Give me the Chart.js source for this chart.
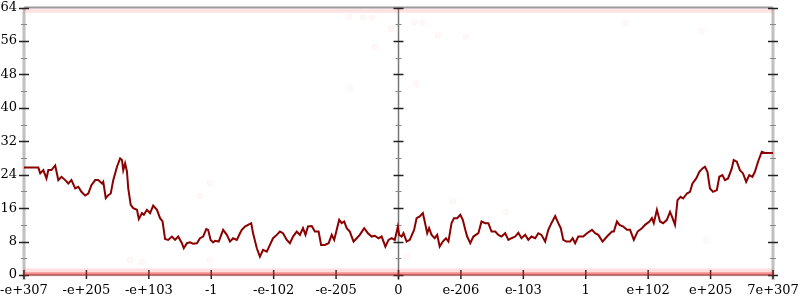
<!DOCTYPE html>
<html>
<head>
<meta charset="utf-8">
<script src="https://cdn.jsdelivr.net/npm/chart.js@4"></script>
<style>
  html, body { margin: 0; padding: 0; background: #fff; }
  #wrap { width: 800px; height: 300px; }
</style>
</head>
<body>
<div id="wrap"><canvas id="grafik"></canvas></div>
<script>
// x position on the axis, in tick steps (-6 .. 6)
const posisiX = [
  -6.00, -5.77, -5.74, -5.69, -5.64, -5.61, -5.56, -5.50, -5.45, -5.40, -5.34, -5.29, -5.24, -5.18,
  -5.13, -5.08, -5.02, -4.97, -4.92, -4.86, -4.81, -4.75, -4.73, -4.69, -4.65, -4.61, -4.57, -4.51,
  -4.46, -4.43, -4.41, -4.38, -4.35, -4.33, -4.29, -4.25, -4.19, -4.16, -4.11, -4.08, -4.03, -3.98,
  -3.93, -3.87, -3.82, -3.78, -3.74, -3.69, -3.63, -3.58, -3.53, -3.47, -3.44, -3.39, -3.34, -3.29,
  -3.23, -3.18, -3.13, -3.08, -3.05, -3.01, -2.97, -2.94, -2.88, -2.81, -2.75, -2.70, -2.65, -2.59,
  -2.54, -2.51, -2.46, -2.41, -2.36, -2.33, -2.27, -2.22, -2.17, -2.11, -2.06, -2.01, -1.95, -1.90,
  -1.85, -1.79, -1.74, -1.69, -1.63, -1.58, -1.53, -1.49, -1.45, -1.39, -1.34, -1.28, -1.24, -1.18,
  -1.12, -1.07, -1.03, -0.99, -0.95, -0.91, -0.87, -0.83, -0.78, -0.72, -0.67, -0.62, -0.55, -0.49,
  -0.43, -0.38, -0.32, -0.27, -0.21, -0.16, -0.11, -0.06, -0.01, 0.01, 0.05, 0.08, 0.13, 0.18,
  0.25, 0.29, 0.34, 0.39, 0.42, 0.46, 0.49, 0.53, 0.58, 0.62, 0.66, 0.71, 0.76, 0.80,
  0.85, 0.89, 0.94, 0.99, 1.03, 1.07, 1.10, 1.15, 1.20, 1.28, 1.33, 1.39, 1.44, 1.49,
  1.55, 1.60, 1.65, 1.71, 1.76, 1.81, 1.87, 1.92, 1.97, 2.03, 2.08, 2.13, 2.19, 2.24,
  2.29, 2.35, 2.40, 2.45, 2.51, 2.56, 2.60, 2.64, 2.69, 2.75, 2.79, 2.83, 2.88, 2.96,
  3.02, 3.10, 3.15, 3.20, 3.27, 3.34, 3.42, 3.45, 3.50, 3.54, 3.60, 3.66, 3.71, 3.77,
  3.83, 3.90, 3.95, 4.02, 4.06, 4.09, 4.14, 4.19, 4.24, 4.30, 4.35, 4.38, 4.43, 4.47,
  4.52, 4.56, 4.62, 4.67, 4.71, 4.77, 4.82, 4.87, 4.91, 4.95, 4.99, 5.04, 5.10, 5.14,
  5.19, 5.23, 5.28, 5.34, 5.37, 5.42, 5.47, 5.52, 5.57, 5.62, 5.67, 5.71, 5.76, 5.82,
  5.87, 6.00
];
const nilaiGaris = [
  25.7, 25.7, 24.3, 25.1, 23.1, 25.1, 25.1, 26.2, 22.7, 23.5, 22.7, 21.9, 22.7, 20.7,
  21.1, 19.9, 19.0, 19.5, 21.5, 22.7, 22.7, 21.9, 22.3, 18.4, 19.1, 19.5, 22.7, 25.9,
  27.9, 27.5, 25.1, 26.7, 24.7, 20.7, 16.8, 16.0, 15.6, 13.4, 14.8, 14.4, 15.6, 14.8,
  16.6, 15.6, 13.6, 12.8, 8.6, 8.4, 9.2, 8.4, 9.2, 7.6, 6.4, 7.6, 7.8, 7.5,
  7.6, 8.8, 9.2, 11.0, 10.8, 8.4, 7.8, 8.2, 8.0, 10.8, 9.6, 8.0, 8.8, 8.4,
  10.0, 10.8, 11.6, 12.0, 12.4, 10.0, 6.4, 4.4, 6.0, 5.6, 7.2, 8.8, 9.6, 10.4,
  10.0, 8.4, 7.6, 9.2, 10.4, 9.6, 11.2, 9.6, 11.6, 11.7, 10.4, 10.4, 7.2, 7.2,
  7.6, 9.6, 8.4, 10.8, 13.2, 12.4, 12.8, 11.2, 10.4, 8.0, 8.8, 9.6, 11.2, 10.0,
  9.2, 9.4, 8.8, 9.2, 6.8, 8.4, 8.8, 8.4, 11.6, 9.6, 9.2, 10.0, 8.0, 8.4,
  10.8, 13.6, 14.0, 14.8, 12.8, 10.0, 11.2, 9.6, 8.8, 9.6, 6.8, 8.0, 8.8, 8.0,
  12.4, 13.6, 13.6, 14.4, 13.2, 10.8, 9.2, 7.6, 9.2, 10.0, 12.8, 12.4, 12.4, 10.4,
  10.4, 9.6, 9.2, 10.0, 8.4, 8.8, 9.2, 10.1, 8.8, 9.6, 8.4, 9.2, 8.8, 10.0,
  9.6, 8.0, 10.8, 12.4, 14.1, 12.4, 11.2, 8.4, 8.0, 8.0, 8.8, 7.6, 9.2, 9.2,
  10.0, 10.8, 10.0, 9.6, 8.0, 9.2, 10.4, 10.4, 12.8, 12.0, 11.6, 10.8, 10.8, 8.4,
  10.4, 11.2, 12.0, 12.8, 13.6, 12.4, 15.6, 12.8, 12.4, 13.2, 15.1, 14.0, 12.0, 17.9,
  18.7, 18.3, 19.5, 19.9, 21.9, 23.1, 24.7, 25.5, 25.9, 24.7, 20.7, 19.9, 20.3, 23.5,
  23.9, 22.7, 23.1, 25.5, 27.5, 27.1, 25.1, 24.3, 22.3, 23.9, 23.5, 24.7, 27.1, 29.5,
  29.2, 29.2
];

// faint sample dots scattered over the plot
const titikX = [-0.79, -0.57, -0.42, -0.12, 0.25, 0.39, 0.63, 1.08, -0.38, -0.78, 0.28, 3.63, 4.86,
  -4.30, -4.11, -3.02, -3.02, -3.18, 4.93, 0.87, 1.72, 0.14];
const titikY = [61.7, 61.7, 61.5, 58.9, 60.5, 60.3, 57.4, 57.0, 54.6, 44.7, 45.9, 60.3, 58.4,
  3.6, 3.1, 3.6, 22.0, 18.9, 8.4, 17.5, 15.1, 4.5];

// dense bands of samples along the bottom and the top
const pitaX = [-6, 6];
const pitaBawahLebar = [0.6, 0.6];
const pitaBawahPadat = [0.3, 0.3];
const pitaAtas = [63.2, 63.2];

const labelX = ['-e+307', '-e+205', '-e+103', '-1', '-e-102', '-e-205', '0',
  'e-206', 'e-103', '1', 'e+102', 'e+205', '7e+307'];
const tickY = [0, 8, 16, 24, 32, 40, 48, 56, 64];

const gabung = (xs, ys) => xs.map((x, i) => ({ x: x, y: ys[i] }));

// axis lines and crossing tick marks
const pluginSumbu = {
  id: 'sumbu',
  beforeDatasetsDraw(chart) {
    const { ctx, chartArea: a, scales: { x, y } } = chart;
    const tengah = x.getPixelForValue(0);
    ctx.save();

    ctx.strokeStyle = '#999';
    ctx.lineWidth = 2;
    [0, 64].forEach(v => {
      const py = y.getPixelForValue(v);
      ctx.beginPath(); ctx.moveTo(a.left, py); ctx.lineTo(a.right, py); ctx.stroke();
    });

    ctx.strokeStyle = '#c0c0c0';
    ctx.lineWidth = 3;
    [a.left, a.right].forEach(px => {
      ctx.beginPath(); ctx.moveTo(px, a.top); ctx.lineTo(px, a.bottom + 5); ctx.stroke();
    });
    ctx.strokeStyle = '#777';
    ctx.lineWidth = 1.5;
    ctx.beginPath(); ctx.moveTo(tengah, a.top); ctx.lineTo(tengah, a.bottom + 5); ctx.stroke();

    [a.left, tengah, a.right].forEach(px => {
      for (let v = 0; v <= 64; v += 4) {
        const py = Math.round(y.getPixelForValue(v)) + 0.5;
        const mayor = v % 8 === 0;
        const d = mayor ? 5 : 3;
        ctx.strokeStyle = mayor ? '#222' : '#888';
        ctx.lineWidth = mayor ? 1.5 : 1;
        ctx.beginPath(); ctx.moveTo(px - d, py); ctx.lineTo(px + d, py); ctx.stroke();
      }
    });

    ctx.strokeStyle = '#222';
    ctx.lineWidth = 1.5;
    for (let i = -6; i <= 6; i++) {
      const px = x.getPixelForValue(i);
      ctx.beginPath(); ctx.moveTo(px, a.bottom - 5); ctx.lineTo(px, a.bottom + 4); ctx.stroke();
    }
    ctx.restore();
  }
};

const fontLabel = { family: "'DejaVu Serif', serif", size: 13 };

new Chart(document.getElementById('grafik'), {
  type: 'line',
  data: {
    datasets: [
      {
        data: gabung(posisiX, nilaiGaris),
        borderColor: '#8b0000',
        borderWidth: 2,
        pointRadius: 0,
        tension: 0
      },
      {
        type: 'scatter',
        data: gabung(titikX, titikY),
        backgroundColor: 'rgba(255, 80, 80, 0.04)',
        borderColor: 'rgba(255, 80, 80, 0.04)',
        pointRadius: 3
      },
      {
        data: gabung(pitaX, pitaBawahLebar),
        borderColor: 'rgba(255, 70, 70, 0.18)',
        borderWidth: 8,
        pointRadius: 0,
        clip: false
      },
      {
        data: gabung(pitaX, pitaBawahPadat),
        borderColor: 'rgba(225, 20, 20, 0.4)',
        borderWidth: 3,
        pointRadius: 0,
        clip: false
      },
      {
        data: gabung(pitaX, pitaAtas),
        borderColor: 'rgba(255, 70, 70, 0.15)',
        borderWidth: 4,
        pointRadius: 0,
        clip: false
      }
    ]
  },
  options: {
    responsive: true,
    maintainAspectRatio: false,
    animation: false,
    layout: { padding: { top: 7.5, right: 27, left: 0, bottom: 0 } },
    plugins: { legend: { display: false }, tooltip: { enabled: false } },
    scales: {
      x: {
        type: 'linear',
        min: -6,
        max: 6,
        grid: { display: false, drawTicks: false },
        border: { display: false },
        afterBuildTicks: s => { s.ticks = labelX.map((t, i) => ({ value: i - 6 })); },
        afterFit: s => {
          s.height = 25;
          s.paddingLeft = 0; s.paddingRight = 0; s.paddingTop = 0; s.paddingBottom = 0;
        },
        ticks: {
          color: '#000',
          font: fontLabel,
          padding: 8,
          maxRotation: 0,
          autoSkip: false,
          callback: v => labelX[v + 6]
        }
      },
      y: {
        min: 0,
        max: 64,
        grid: { display: false, drawTicks: false },
        border: { display: false },
        afterBuildTicks: s => { s.ticks = tickY.map(v => ({ value: v })); },
        afterFit: s => {
          s.width = 24;
          s.paddingLeft = 0; s.paddingRight = 0; s.paddingTop = 0; s.paddingBottom = 0;
        },
        ticks: { color: '#000', font: fontLabel, padding: 7 }
      }
    }
  },
  plugins: [pluginSumbu]
});
</script>
</body>
</html>
